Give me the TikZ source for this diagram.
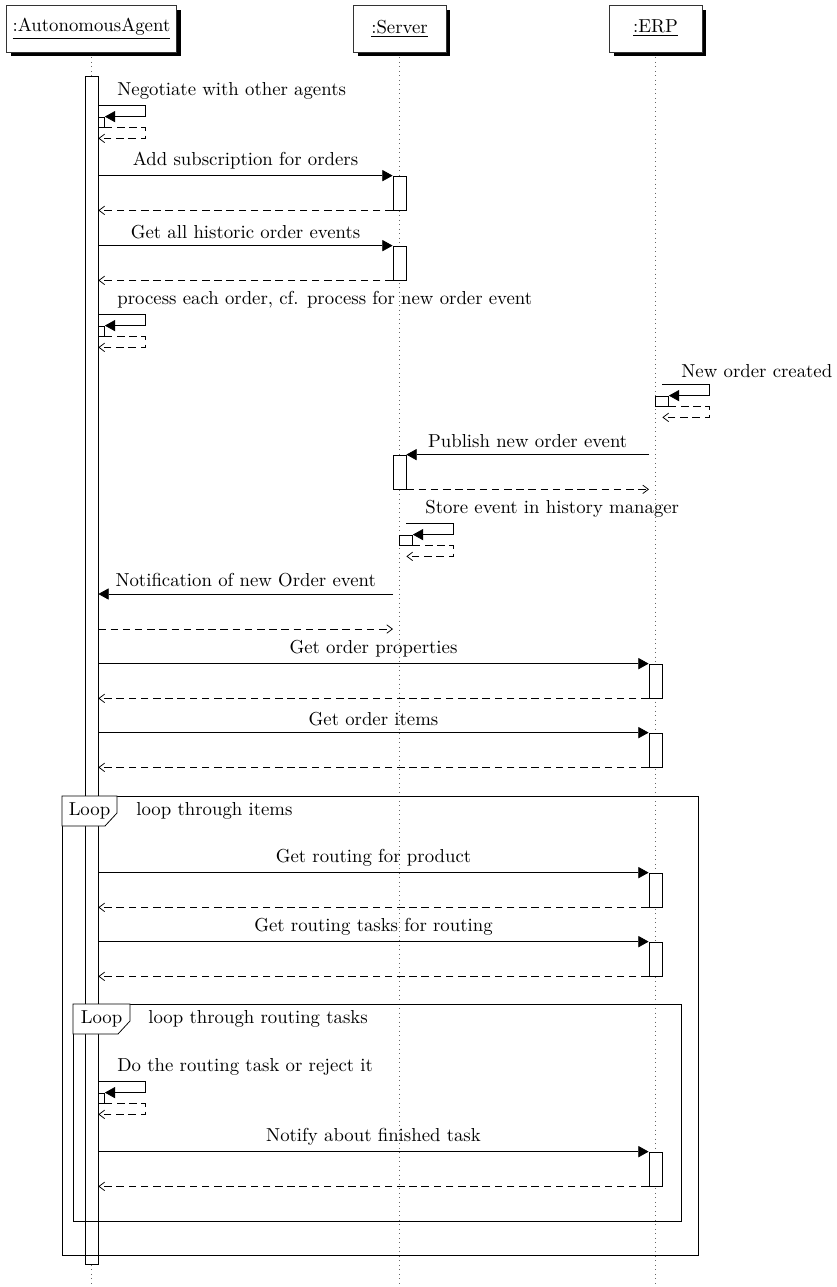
\documentclass[tikz,border=0pt]{standalone}
\usepackage{tikz}
\usetikzlibrary{arrows.meta,shadows,positioning}

\begin{document}
\begin{tikzpicture}[
  x=0.5327pt, y=-0.5327pt,
  obj/.style={draw=black!80, fill=white, minimum width=49.5pt, minimum height=25pt, inner xsep=3.33pt, drop shadow={shadow xshift=2.4pt, shadow yshift=-2.4pt, fill=black, opacity=1}},
  life/.style={dotted, black!60},
  bar/.style={draw, fill=white, minimum width=6.93pt, inner sep=0pt},
  callbox/.style={bar, minimum height=18.1pt},
  selfbox/.style={bar, minimum height=5.33pt},
  call/.style={-{Triangle[length=5.5pt,width=6pt]}},
  ret/.style={dash pattern=on 4pt off 2.5pt, -{Straight Barb[length=3pt,width=4.5pt]}},
  slbl/.style={anchor=south west, xshift=6.8pt},
  tagtxt/.style={inner sep=0pt},
]
\useasboundingbox (0,0) rectangle (837,1287);

% ===================== Objects and lifelines =====================
\node[obj] (agent) at (91.5,28.5) {\underline{:AutonomousAgent}};
\node[obj] (server) at (399.5,28.5) {\underline{:Server}};
\node[obj] (erp) at (655.5,28.5) {\underline{:ERP}};

\draw[life] ([yshift=-2.7pt]agent.south) -- (agent.south |- 0,1287);
\draw[life] ([yshift=-2.7pt]server.south) -- (server.south |- 0,1287);
\draw[life] ([yshift=-2.7pt]erp.south) -- (erp.south |- 0,1287);

% Self-call boxes on the agent (half hidden by the bar)
\node[selfbox] (sA1) at (98,122) {};
\node[selfbox] (sA2) at (98,331) {};
\node[selfbox] (sA3) at (98,1098) {};

% Activation bar of the agent
\node[bar, minimum height=632.8pt] (agentbar) at (91.5,670) {};

% Activation boxes on server and ERP
\node[callbox] (s1) at (399.5,193) {};
\node[callbox] (s2) at (399.5,263) {};
\node[callbox] (s3) at (399.5,472) {};
\node[selfbox] (sS1) at (406,540) {};
\node[selfbox] (sE1) at (662,401) {};
\node[callbox] (e1) at (655.5,681) {};
\node[callbox] (e2) at (655.5,750) {};
\node[callbox] (e3) at (655.5,890) {};
\node[callbox] (e4) at (655.5,959) {};
\node[callbox] (e5) at (655.5,1169) {};

% ===================== Loop frames =====================
\draw (62,796) rectangle (698,1255);
\draw[fill=white] (62,796) -- (117,796) -- (117,813) -- (105,826) -- (62,826) -- cycle;
\node[tagtxt] (loop1) at (89.5,811) {Loop};
\node[tagtxt, anchor=west] (loop1t) at (136,811) {loop through items};

\draw (73,1004) rectangle (681,1221);
\draw[fill=white] (73,1004) -- (130,1004) -- (130,1021) -- (118,1034) -- (73,1034) -- cycle;
\node[tagtxt] (loop2) at (101.5,1019) {Loop};
\node[tagtxt, anchor=west] (loop2t) at (148,1019) {loop through routing tasks};

% ===================== Messages =====================
\draw[call] (sA1.north) ++(0,-11) node[slbl]{Negotiate with other agents} -- ++(47,0) |- (sA1.north east);
\draw[ret] (sA1.south east) -- ++(40.5,0) -- ++(0,11) -- ++(-47,0);

\draw[call] (agentbar.east |- s1.north) -- (s1.north west) node[midway,above]{Add subscription for orders};
\draw[ret] (s1.south west) -- (agentbar.east |- s1.south);

\draw[call] (agentbar.east |- s2.north) -- (s2.north west) node[midway,above]{Get all historic order events};
\draw[ret] (s2.south west) -- (agentbar.east |- s2.south);

\draw[call] (sA2.north) ++(0,-11) node[slbl]{process each order, cf. process for new order event} -- ++(47,0) |- (sA2.north east);
\draw[ret] (sA2.south east) -- ++(40.5,0) -- ++(0,11) -- ++(-47,0);

\draw[call] (sE1.north) ++(0,-11) node[slbl]{New order created} -- ++(47,0) |- (sE1.north east);
\draw[ret] (sE1.south east) -- ++(40.5,0) -- ++(0,11) -- ++(-47,0);

\draw[call] ([xshift=-3.465pt]erp.center |- s3.north) -- (s3.north east) node[midway,above]{Publish new order event};
\draw[ret] (s3.south east) -- ([xshift=-3.465pt]erp.center |- s3.south);

\draw[call] (sS1.north) ++(0,-11) node[slbl]{Store event in history manager} -- ++(47,0) |- (sS1.north east);
\draw[ret] (sS1.south east) -- ++(40.5,0) -- ++(0,11) -- ++(-47,0);

\draw[call] ([xshift=-3.465pt]server.center |- 0,594) -- (agentbar.east |- 0,594) node[midway,above]{Notification of new Order event};
\draw[ret] (agentbar.east |- 0,629) -- ([xshift=-3.465pt]server.center |- 0,629);

\draw[call] (agentbar.east |- e1.north) -- (e1.north west) node[midway,above]{Get order properties};
\draw[ret] (e1.south west) -- (agentbar.east |- e1.south);

\draw[call] (agentbar.east |- e2.north) -- (e2.north west) node[midway,above]{Get order items};
\draw[ret] (e2.south west) -- (agentbar.east |- e2.south);

\draw[call] (agentbar.east |- e3.north) -- (e3.north west) node[midway,above]{Get routing for product};
\draw[ret] (e3.south west) -- (agentbar.east |- e3.south);

\draw[call] (agentbar.east |- e4.north) -- (e4.north west) node[midway,above]{Get routing tasks for routing};
\draw[ret] (e4.south west) -- (agentbar.east |- e4.south);

\draw[call] (sA3.north) ++(0,-11) node[slbl]{Do the routing task or reject it} -- ++(47,0) |- (sA3.north east);
\draw[ret] (sA3.south east) -- ++(40.5,0) -- ++(0,11) -- ++(-47,0);

\draw[call] (agentbar.east |- e5.north) -- (e5.north west) node[midway,above]{Notify about finished task};
\draw[ret] (e5.south west) -- (agentbar.east |- e5.south);

\end{tikzpicture}
\end{document}
